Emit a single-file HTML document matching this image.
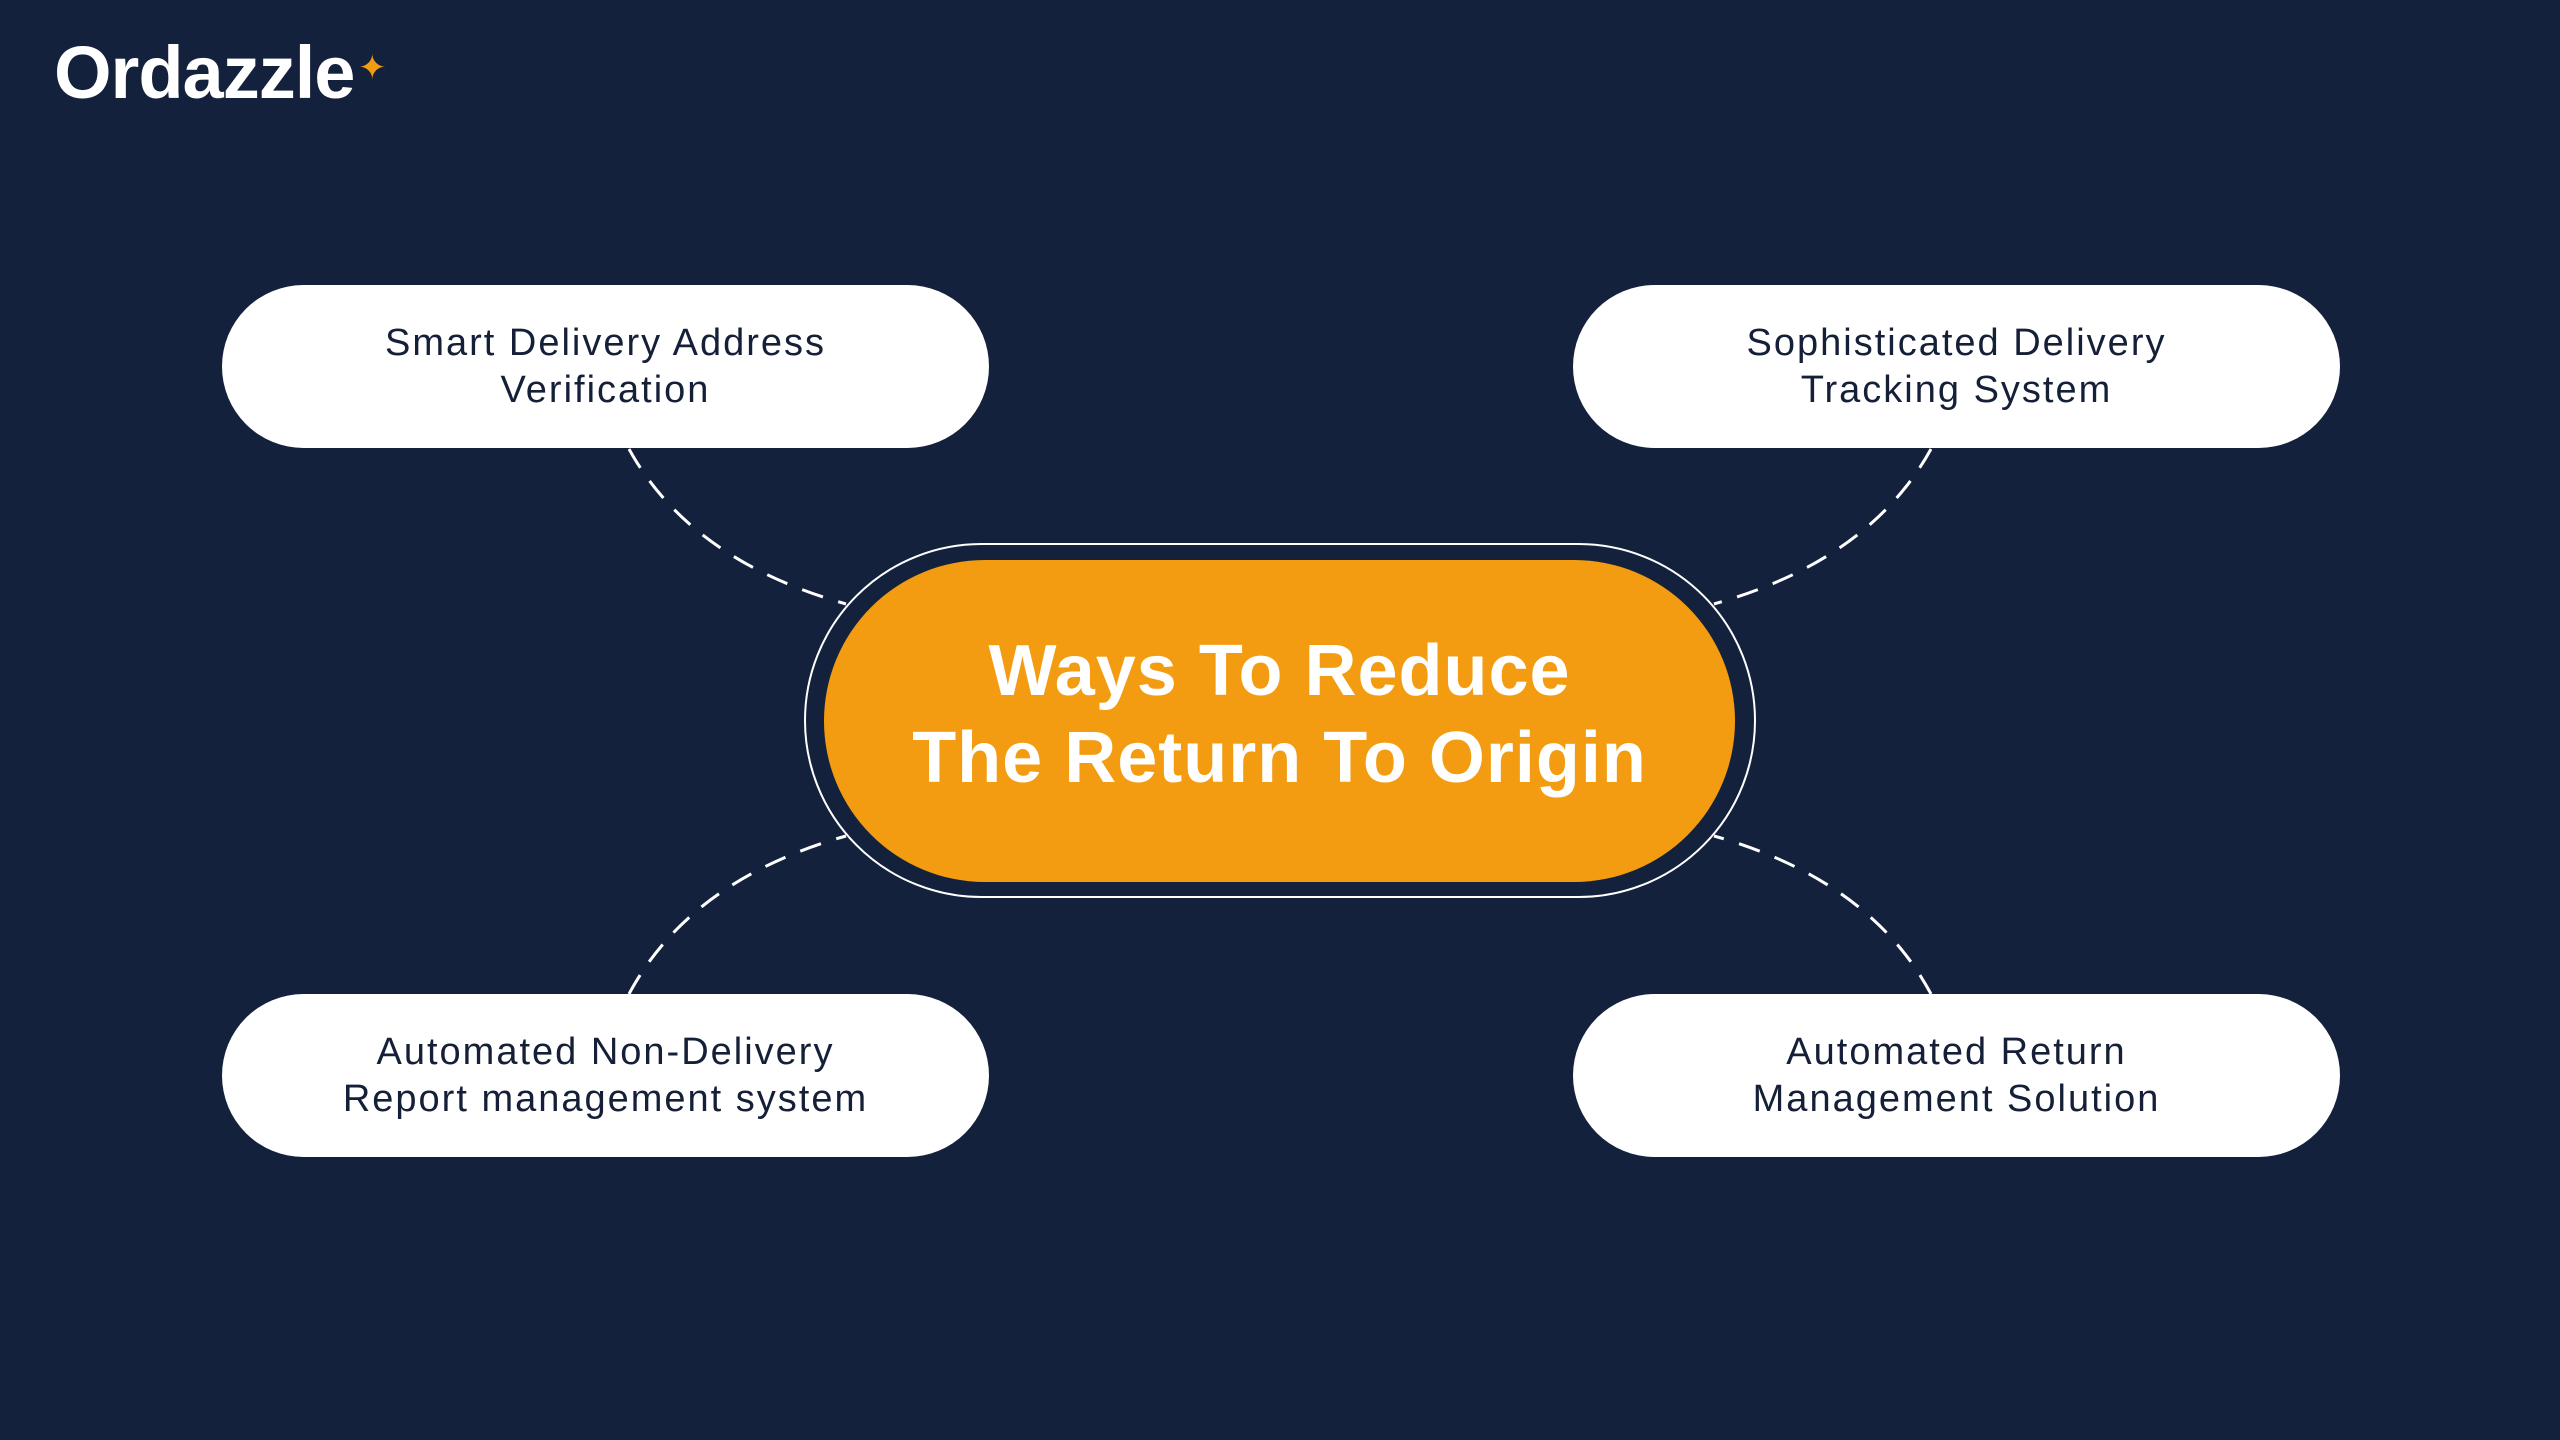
<!DOCTYPE html>
<html><head><meta charset="utf-8"><style>
html,body{margin:0;padding:0;}
body{width:2560px;height:1440px;background:#14213d;position:relative;overflow:hidden;font-family:"Liberation Sans",sans-serif;}
.logo{position:absolute;left:54px;top:30px;font-size:74px;font-weight:bold;color:#fff;letter-spacing:-1px;}
.star{position:absolute;left:358px;top:48px;color:#f39c12;font-size:34px;}
.pill{position:absolute;width:767px;height:163px;border-radius:82px;background:#fff;display:flex;align-items:center;justify-content:center;text-align:center;color:#152038;font-size:38px;line-height:47px;letter-spacing:2px;}
.ring{position:absolute;left:804px;top:543px;width:952px;height:355px;border:2.5px solid #fff;border-radius:180px;box-sizing:border-box;}
.core{position:absolute;left:824px;top:560px;width:911px;height:322px;border-radius:161px;background:#f39c12;display:flex;align-items:center;justify-content:center;text-align:center;color:#fff;font-weight:bold;font-size:72px;line-height:87px;letter-spacing:1px;padding-bottom:12px;box-sizing:border-box;}
svg{position:absolute;left:0;top:0;}
</style></head><body>
<div class="logo">Ordazzle</div><div class="star">✦</div>
<svg width="2560" height="1440"><g fill="none" stroke="#fff" stroke-width="3" stroke-dasharray="22 16">
<path d="M629 449 Q690 560 846 604"/>
<path d="M1931 449 Q1870 560 1714 604"/>
<path d="M629 994 Q690 880 846 836"/>
<path d="M1931 994 Q1870 880 1714 836"/>
</g></svg>
<div class="pill" style="left:222px;top:285px">Smart Delivery Address<br>Verification</div>
<div class="pill" style="left:1573px;top:285px">Sophisticated Delivery<br>Tracking System</div>
<div class="pill" style="left:222px;top:994px">Automated Non-Delivery<br>Report management system</div>
<div class="pill" style="left:1573px;top:994px">Automated Return<br>Management Solution</div>
<div class="ring"></div>
<div class="core">Ways To Reduce<br>The Return To Origin</div>
</body></html>
